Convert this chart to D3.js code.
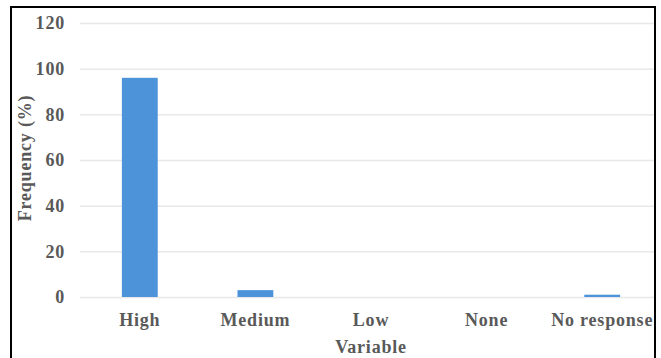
<!DOCTYPE html>
<html>
<head>
<meta charset="utf-8">
<script src="https://cdn.jsdelivr.net/npm/d3@7"></script>
<style>
  html, body { margin: 0; padding: 0; background: #fff; }
  svg { display: block; }
</style>
</head>
<body>
<svg id="chart" width="661" height="358"></svg>
<script>
// Response levels and their frequency (%)
const categories = ["High", "Medium", "Low", "None", "No response"];
const frequency = [96, 3, 0, 0, 1];
const yTicks = [0, 20, 40, 60, 80, 100, 120];

const svg = d3.select("#chart");
const plot = { left: 82, right: 660, top: 23, bottom: 297 };
const font = "'Liberation Serif', 'Times New Roman', serif";
const textColor = "#595959";

function styleText(sel) {
  sel.attr("fill", textColor)
    .style("font-family", font)
    .style("font-weight", "bold")
    .style("font-size", "18px")
    .style("letter-spacing", "0.8px");
}

const x = d3.scaleBand()
  .domain(categories)
  .range([plot.left, plot.right])
  .paddingInner(0.69)
  .paddingOuter(0.345);

const y = d3.scaleLinear()
  .domain([0, 120])
  .range([plot.bottom, plot.top]);

// Horizontal gridlines with value labels
const yAxis = d3.axisLeft(y)
  .tickValues(yTicks)
  .tickSize(-(plot.right - plot.left - 2))
  .tickPadding(15);

const gy = svg.append("g")
  .attr("transform", `translate(${plot.left - 2},0)`)
  .call(yAxis);
gy.select(".domain").remove();
gy.selectAll(".tick line").attr("stroke", "#e8e8e8").attr("stroke-width", 1.5);
gy.selectAll(".tick text").call(styleText);

// Bars
svg.append("g").selectAll("rect")
  .data(categories.map((c, i) => ({ c, v: frequency[i] })))
  .join("rect")
  .attr("x", d => x(d.c))
  .attr("width", x.bandwidth())
  .attr("y", d => y(d.v))
  .attr("height", d => y(0) - y(d.v))
  .attr("fill", "#4d93d9");

// Category labels
const xAxis = d3.axisBottom(x).tickSize(0).tickPadding(16);
const gx = svg.append("g")
  .attr("transform", `translate(0,${plot.bottom})`)
  .call(xAxis);
gx.select(".domain").remove();
gx.selectAll(".tick text").call(styleText);

// Axis titles
svg.append("text")
  .attr("x", (plot.left + plot.right) / 2)
  .attr("y", 353)
  .attr("text-anchor", "middle")
  .call(styleText)
  .text("Variable");

svg.append("text")
  .attr("transform", `translate(31,${(plot.top + plot.bottom) / 2 - 2}) rotate(-90)`)
  .attr("text-anchor", "middle")
  .call(styleText)
  .text("Frequency (%)");

// Chart frame
svg.append("rect")
  .attr("x", 11)
  .attr("y", 7)
  .attr("width", 644)
  .attr("height", 360)
  .attr("fill", "none")
  .attr("stroke", "#000")
  .attr("stroke-width", 2);
</script>
</body>
</html>
